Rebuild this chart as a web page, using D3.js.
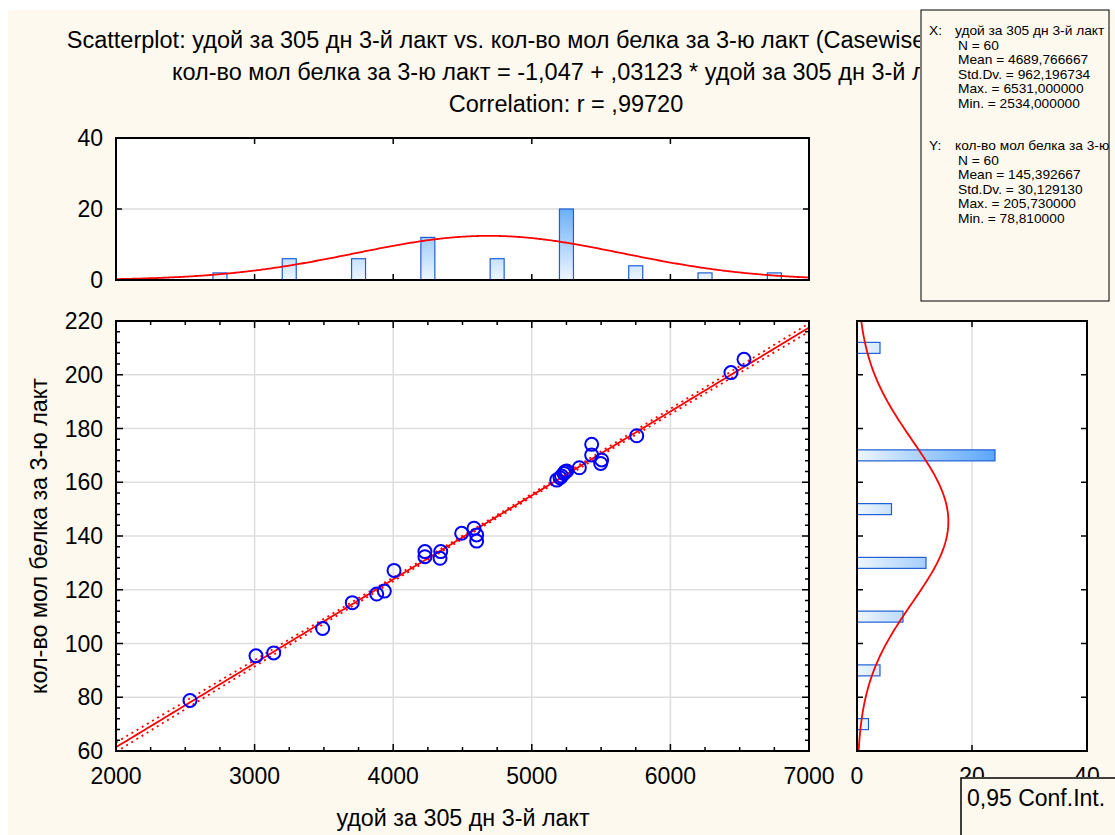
<!DOCTYPE html>
<html>
<head>
<meta charset="utf-8">
<script src="https://cdn.jsdelivr.net/npm/d3@7"></script>
<style>
  html, body { margin: 0; padding: 0; background: #ffffff; }
  svg { display: block; }
  text { font-family: "Liberation Sans", Arial, sans-serif; fill: #000; }
</style>
</head>
<body>
<svg id="chart" width="1115" height="835"></svg>
<script>
// Milk yield for 305 days of 3rd lactation (x) vs milk protein amount (y)
const yieldValues   = [2534, 3010, 3138, 3491, 3705, 3881, 3936, 4006, 4229, 4229,
                       4343, 4338, 4494, 4583, 4602, 4602, 5180, 5204, 5215, 5232,
                       5240, 5252, 5343, 5432, 5432, 5497, 5504, 5757, 6437, 6531];
const proteinValues = [78.81, 95.4, 96.5, 105.6, 115.2, 118.4, 119.5, 127.2, 134.2, 132.3,
                       134.2, 131.7, 141.0, 142.9, 140.4, 138.1, 160.8, 161.7, 162.3, 163.3,
                       163.9, 164.2, 165.4, 174.1, 170.1, 167.0, 168.3, 177.3, 200.8, 205.73];

// Marginal histograms (counts per bin)
const xBinCenters = [2750, 3250, 3750, 4250, 4750, 5250, 5750, 6250, 6750];
const xBinCounts  = [2, 6, 6, 12, 6, 20, 4, 2, 2];
const yBinCenters = [70, 90, 110, 130, 150, 170, 190, 210];
const yBinCounts  = [2, 4, 8, 12, 6, 24, 0, 4];

// Descriptive statistics and regression
const nCases = 60;
const xMean = 4689.766667, xSD = 962.196734;
const yMean = 145.392667, ySD = 30.129130;
const intercept = -1.047, slope = 0.03123, corrR = 0.99720;

const titleLines = [
  "Scatterplot: удой за 305 дн 3-й лакт vs. кол-во мол белка за 3-ю лакт (Casewise MD deletion)",
  "кол-во мол белка за 3-ю лакт = -1,047 + ,03123 * удой за 305 дн 3-й лакт",
  "Correlation: r = ,99720"
];
const xLabel = "удой за 305 дн 3-й лакт";
const yLabel = "кол-во мол белка за 3-ю лакт";
const statsHeads = ["X:", "Y:"];
const statsLines = [
  ["удой за 305 дн 3-й лакт", "N = 60", "Mean = 4689,766667", "Std.Dv. = 962,196734",
   "Max. = 6531,000000", "Min. = 2534,000000"],
  ["кол-во мол белка за 3-ю лакт", "N = 60", "Mean = 145,392667", "Std.Dv. = 30,129130",
   "Max. = 205,730000", "Min. = 78,810000"]
];
const xTicks = [2000, 3000, 4000, 5000, 6000, 7000];
const yTicks = [60, 80, 100, 120, 140, 160, 180, 200, 220];
const countTicks = [0, 20, 40];

const svg = d3.select("#chart");
const cream = "#fdf9ee";
const gridCol = "#dedede";
const barStroke = "#1f5fd6";

svg.append("rect").attr("x", 8).attr("y", 10).attr("width", 1107).attr("height", 825).attr("fill", cream);

// scales
const x  = d3.scaleLinear().domain([2000, 7000]).range([116, 809]);
const y  = d3.scaleLinear().domain([60, 220]).range([751, 321]);
const yc = d3.scaleLinear().domain([0, 40]).range([280, 138]);
const xc = d3.scaleLinear().domain([0, 40]).range([857, 1087]);

const defs = svg.append("defs");
const gTop = defs.append("linearGradient").attr("id", "gradTop")
  .attr("gradientUnits", "userSpaceOnUse")
  .attr("x1", 0).attr("x2", 0).attr("y1", yc(0)).attr("y2", yc(20));
gTop.append("stop").attr("offset", 0).attr("stop-color", "#eef6ff");
gTop.append("stop").attr("offset", 1).attr("stop-color", "#6cb0f8");
const gRight = defs.append("linearGradient").attr("id", "gradRight")
  .attr("gradientUnits", "userSpaceOnUse")
  .attr("y1", 0).attr("y2", 0).attr("x1", xc(0)).attr("x2", xc(24));
gRight.append("stop").attr("offset", 0).attr("stop-color", "#eef6ff");
gRight.append("stop").attr("offset", 1).attr("stop-color", "#5aa6fb");
defs.append("clipPath").attr("id", "statsClip")
  .append("rect").attr("x", 921).attr("y", 10).attr("width", 188).attr("height", 291);
defs.append("clipPath").attr("id", "mainClip")
  .append("rect").attr("x", 116).attr("y", 321).attr("width", 693).attr("height", 430);
// the title runs underneath the statistics box
defs.append("clipPath").attr("id", "titleClip")
  .append("rect").attr("x", 0).attr("y", 0).attr("width", 920).attr("height", 130);
// count labels of the right histogram run underneath the legend box
const cntClip = defs.append("clipPath").attr("id", "countClip");
cntClip.append("rect").attr("x", 0).attr("y", 0).attr("width", 1115).attr("height", 777);
cntClip.append("rect").attr("x", 0).attr("y", 0).attr("width", 960).attr("height", 835);

// ---------- Title ----------
svg.append("g").attr("clip-path", "url(#titleClip)")
  .selectAll("text").data(titleLines).join("text")
  .attr("x", 566).attr("y", (d, i) => 48 + i * 32)
  .attr("text-anchor", "middle").attr("font-size", 23.5).text(d => d);

// helper: inward ticks
function ticksAlong(g, vals, pos, len, orient) {
  g.selectAll(null).data(vals).join("line")
    .attr("stroke", "#000").attr("stroke-width", 1.5)
    .each(function (v) {
      const s = d3.select(this);
      if (orient === "h") {
        s.attr("x1", v).attr("x2", v).attr("y1", pos).attr("y2", pos + len);
      } else {
        s.attr("y1", v).attr("y2", v).attr("x1", pos).attr("x2", pos + len);
      }
    });
}

// ---------- Top histogram ----------
const histTop = svg.append("g");
histTop.append("rect").attr("x", 116).attr("y", 138).attr("width", 693).attr("height", 142).attr("fill", "#fff");
histTop.append("line").attr("x1", 116).attr("x2", 809).attr("y1", yc(20)).attr("y2", yc(20))
  .attr("stroke", gridCol).attr("stroke-width", 1.5);
const xBarW = 14;
histTop.selectAll("rect.bar").data(xBinCenters).join("rect").attr("class", "bar")
  .attr("x", (d) => x(d) - xBarW / 2).attr("width", xBarW)
  .attr("y", (d, i) => yc(xBinCounts[i])).attr("height", (d, i) => yc(0) - yc(xBinCounts[i]))
  .attr("fill", "url(#gradTop)").attr("stroke", barStroke).attr("stroke-width", 1.2);
const normX = d3.range(2000, 7001, 10).map(v => [v,
  nCases * 500 * Math.exp(-0.5 * ((v - xMean) / xSD) ** 2) / (xSD * Math.sqrt(2 * Math.PI))]);
histTop.append("path").datum(normX)
  .attr("d", d3.line().x(d => x(d[0])).y(d => yc(d[1])))
  .attr("fill", "none").attr("stroke", "#ff0000").attr("stroke-width", 1.8);
ticksAlong(histTop, [3000, 4000, 5000, 6000].map(x), 138, 6, "h");
ticksAlong(histTop, [3000, 4000, 5000, 6000].map(x), 280, -6, "h");
ticksAlong(histTop, [yc(20)], 809, -6, "v");
ticksAlong(histTop, [yc(20)], 116, 6, "v");
histTop.append("rect").attr("x", 116).attr("y", 138).attr("width", 693).attr("height", 142)
  .attr("fill", "none").attr("stroke", "#000").attr("stroke-width", 2);
histTop.selectAll("text").data(countTicks).join("text")
  .attr("x", 103).attr("y", d => yc(d) + 8).attr("text-anchor", "end")
  .attr("font-size", 23).text(d => d);

// ---------- Main scatter ----------
const mainG = svg.append("g");
mainG.append("rect").attr("x", 116).attr("y", 321).attr("width", 693).attr("height", 430).attr("fill", "#fff");
mainG.selectAll("line.vg").data(xTicks.slice(1, -1)).join("line").attr("class", "vg")
  .attr("x1", d => x(d)).attr("x2", d => x(d)).attr("y1", 321).attr("y2", 751)
  .attr("stroke", gridCol).attr("stroke-width", 1.5);
mainG.selectAll("line.hg").data(yTicks.slice(1, -1)).join("line").attr("class", "hg")
  .attr("y1", d => y(d)).attr("y2", d => y(d)).attr("x1", 116).attr("x2", 809)
  .attr("stroke", gridCol).attr("stroke-width", 1.5);

// regression line and 95% confidence band for the mean
const resSD = ySD * Math.sqrt(1 - corrR * corrR) * Math.sqrt((nCases - 1) / (nCases - 2));
const tCrit = 2.0017;
const sxx = (nCases - 1) * xSD * xSD;
const fitPts = d3.range(2000, 7001, 25).map(v => {
  const yh = intercept + slope * v;
  const hw = tCrit * resSD * Math.sqrt(1 / nCases + (v - xMean) ** 2 / sxx);
  return { v, yh, lo: yh - hw, hi: yh + hw };
});
const plotArea = mainG.append("g").attr("clip-path", "url(#mainClip)");
plotArea.append("path").datum(fitPts)
  .attr("d", d3.line().x(d => x(d.v)).y(d => y(d.lo)))
  .attr("fill", "none").attr("stroke", "#ff0000").attr("stroke-width", 1.8).attr("stroke-dasharray", "2,4");
plotArea.append("path").datum(fitPts)
  .attr("d", d3.line().x(d => x(d.v)).y(d => y(d.hi)))
  .attr("fill", "none").attr("stroke", "#ff0000").attr("stroke-width", 1.8).attr("stroke-dasharray", "2,4");
plotArea.append("path").datum(fitPts)
  .attr("d", d3.line().x(d => x(d.v)).y(d => y(d.yh)))
  .attr("fill", "none").attr("stroke", "#ff0000").attr("stroke-width", 1.8);

plotArea.selectAll("circle").data(yieldValues).join("circle")
  .attr("cx", d => x(d)).attr("cy", (d, i) => y(proteinValues[i])).attr("r", 6.5)
  .attr("fill", "none").attr("stroke", "#0000ff").attr("stroke-width", 2);

const xMinor = d3.range(2250, 7000, 250).filter(v => v % 1000 !== 0);
const yMinor = d3.range(64, 220, 4).filter(v => v % 20 !== 0);
const xMajorIn = xTicks.slice(1, -1);
const yMajorIn = yTicks.slice(1, -1);
ticksAlong(mainG, xMajorIn.map(x), 321, 7, "h");
ticksAlong(mainG, xMajorIn.map(x), 751, -7, "h");
ticksAlong(mainG, xMinor.map(x), 321, 4, "h");
ticksAlong(mainG, xMinor.map(x), 751, -4, "h");
ticksAlong(mainG, yMajorIn.map(y), 116, 7, "v");
ticksAlong(mainG, yMajorIn.map(y), 809, -7, "v");
ticksAlong(mainG, yMinor.map(y), 116, 4, "v");
ticksAlong(mainG, yMinor.map(y), 809, -4, "v");
mainG.append("rect").attr("x", 116).attr("y", 321).attr("width", 693).attr("height", 430)
  .attr("fill", "none").attr("stroke", "#000").attr("stroke-width", 2);

mainG.selectAll("text.yt").data(yTicks).join("text").attr("class", "yt")
  .attr("x", 103).attr("y", d => y(d) + 8).attr("text-anchor", "end")
  .attr("font-size", 23).text(d => d);
mainG.selectAll("text.xt").data(xTicks).join("text").attr("class", "xt")
  .attr("x", d => x(d)).attr("y", 784).attr("text-anchor", "middle")
  .attr("font-size", 23).text(d => d);
mainG.append("text").attr("x", 463).attr("y", 826).attr("text-anchor", "middle")
  .attr("font-size", 23.3).text(xLabel);
mainG.append("text").attr("transform", `translate(47,${(321 + 751) / 2}) rotate(-90)`)
  .attr("text-anchor", "middle").attr("font-size", 23.3).text(yLabel);

// ---------- Right histogram ----------
const histRight = svg.append("g");
histRight.append("rect").attr("x", 857).attr("y", 321).attr("width", 230).attr("height", 430).attr("fill", "#fff");
histRight.append("line").attr("x1", xc(20)).attr("x2", xc(20)).attr("y1", 321).attr("y2", 751)
  .attr("stroke", gridCol).attr("stroke-width", 1.5);
const yBarH = 11;
histRight.selectAll("rect.bar").data(yBinCenters.filter((d, i) => yBinCounts[i] > 0)).join("rect").attr("class", "bar")
  .attr("x", xc(0)).attr("y", d => y(d) - yBarH / 2).attr("height", yBarH)
  .attr("width", d => xc(yBinCounts[yBinCenters.indexOf(d)]) - xc(0))
  .attr("fill", "url(#gradRight)").attr("stroke", barStroke).attr("stroke-width", 1.2);
const normY = d3.range(60, 220.1, 1).map(v => [v,
  nCases * 20 * Math.exp(-0.5 * ((v - yMean) / ySD) ** 2) / (ySD * Math.sqrt(2 * Math.PI))]);
histRight.append("path").datum(normY)
  .attr("d", d3.line().x(d => xc(d[1])).y(d => y(d[0])))
  .attr("fill", "none").attr("stroke", "#ff0000").attr("stroke-width", 1.8);
ticksAlong(histRight, yMajorIn.map(y), 857, 6, "v");
ticksAlong(histRight, yMajorIn.map(y), 1087, -6, "v");
ticksAlong(histRight, [xc(20)], 321, 6, "h");
ticksAlong(histRight, [xc(20)], 751, -6, "h");
histRight.append("rect").attr("x", 857).attr("y", 321).attr("width", 230).attr("height", 430)
  .attr("fill", "none").attr("stroke", "#000").attr("stroke-width", 2);
histRight.append("g").attr("clip-path", "url(#countClip)")
  .selectAll("text").data(countTicks).join("text")
  .attr("x", d => xc(d)).attr("y", 784).attr("text-anchor", "middle")
  .attr("font-size", 23).text(d => d);

// ---------- Statistics box ----------
const stats = svg.append("g");
stats.append("rect").attr("x", 921).attr("y", 10).attr("width", 188).attr("height", 291)
  .attr("fill", cream).attr("stroke", "#000").attr("stroke-width", 1);
const statsText = stats.append("g").attr("clip-path", "url(#statsClip)");
const statsFont = 12.5, statsStretch = 1.1;
function statText(g, tx, ty, str) {
  g.append("text").attr("transform", `translate(${tx},${ty}) scale(${statsStretch},1)`)
    .attr("font-size", statsFont).text(str);
}
statsLines.forEach((block, b) => {
  const y0 = 35 + b * 115;
  statText(statsText, 929, y0, statsHeads[b]);
  block.forEach((str, i) => statText(statsText, i === 0 ? 955 : 958, y0 + i * 14.5, str));
});

// ---------- Legend box ----------
const legend = svg.append("g");
legend.append("rect").attr("x", 961).attr("y", 778).attr("width", 160).attr("height", 70)
  .attr("fill", cream).attr("stroke", "#000").attr("stroke-width", 1.5);
legend.append("text").attr("x", 967).attr("y", 806).attr("font-size", 23).text("0,95 Conf.Int.");
</script>
</body>
</html>
